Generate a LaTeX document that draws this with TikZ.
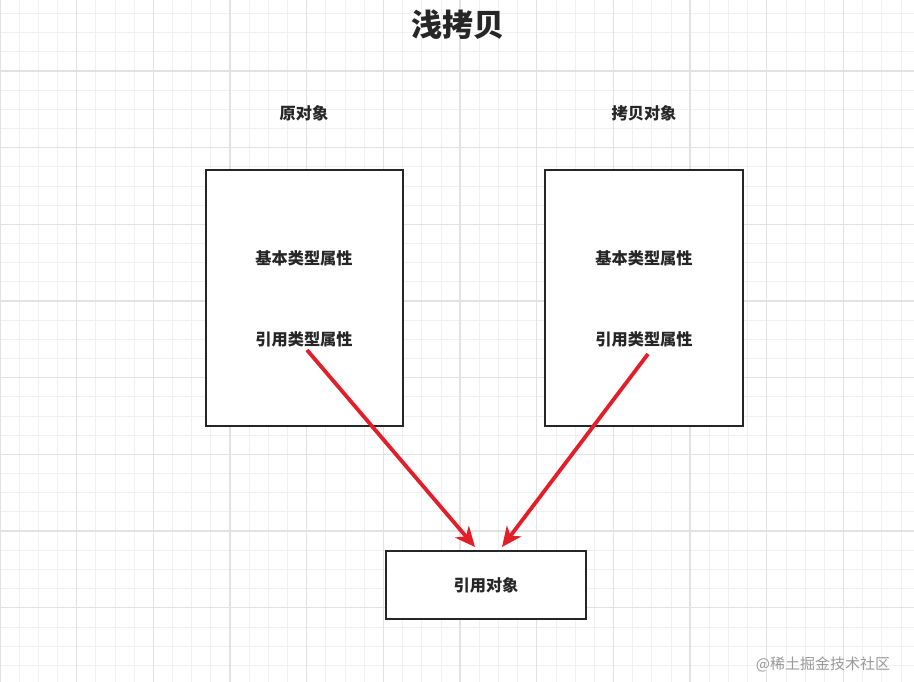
\documentclass[tikz,border=0pt]{standalone}
\usepackage{fontspec}
\setmainfont{Noto Sans CJK SC}
\usetikzlibrary{arrows.meta}
\definecolor{arr}{RGB}{228,30,40}
\definecolor{gminor}{RGB}{240,240,240}
\definecolor{gmajor}{RGB}{226,226,226}
\tikzset{
 box/.style={draw=black!85,line width=1.2pt,fill=white},
 lbl/.style={font=\bfseries\fontsize{16.2}{18}\selectfont,text=black!85},
 ref/.style={draw=arr,line width=3.8pt,-{Stealth[length=20pt,width=18pt,inset=6pt]}}
}
\begin{document}
\begin{tikzpicture}[x=1pt,y=-1pt]
\useasboundingbox (0,0) rectangle (914,682);
\fill[white] (0,0) rectangle (914,682);
\foreach \x in {0,19.17,...,914} {\draw[gminor,line width=0.8pt] (\x,0) -- (\x,682);}
\foreach \y in {-5.7,13.47,...,682} {\draw[gminor,line width=0.8pt] (0,\y) -- (914,\y);}
\foreach \x in {0,76.67,...,914} {\draw[gmajor,line width=1.2pt] (\x,0) -- (\x,682);}
\foreach \y in {-5.7,70.97,...,682} {\draw[gmajor,line width=1.2pt] (0,\y) -- (914,\y);}
\node[font=\bfseries\fontsize{31}{34}\selectfont,text=black!85] (title) at (458,25) {浅拷贝};
\node[lbl] (l1) at (304,113) {原对象};
\node[lbl] (l2) at (644,113) {拷贝对象};
\node[box,minimum width=197pt,minimum height=256pt] (a) at (304.5,298) {};
\node[box,minimum width=198pt,minimum height=256pt] (b) at (644,298) {};
\node[box,minimum width=200pt,minimum height=68pt] (c) at (486,585) {};
\node[lbl] (a1) at (304,258) {基本类型属性};
\node[lbl] (a2) at (304,339) {引用类型属性};
\node[lbl] (b1) at (644,258) {基本类型属性};
\node[lbl] (b2) at (644,339) {引用类型属性};
\node[lbl] (ct) at (486,585) {引用对象};
\coordinate (as) at (307,350);
\coordinate (bs) at (648,354);
\coordinate (ae) at (475,547);
\coordinate (be) at (502,547);
\draw[ref] (as) -- (ae);
\draw[ref] (bs) -- (be);
\node[font=\fontsize{15}{17}\selectfont,text=black!40] (wm) at (823,664) {@稀土掘金技术社区};
\end{tikzpicture}
\end{document}
